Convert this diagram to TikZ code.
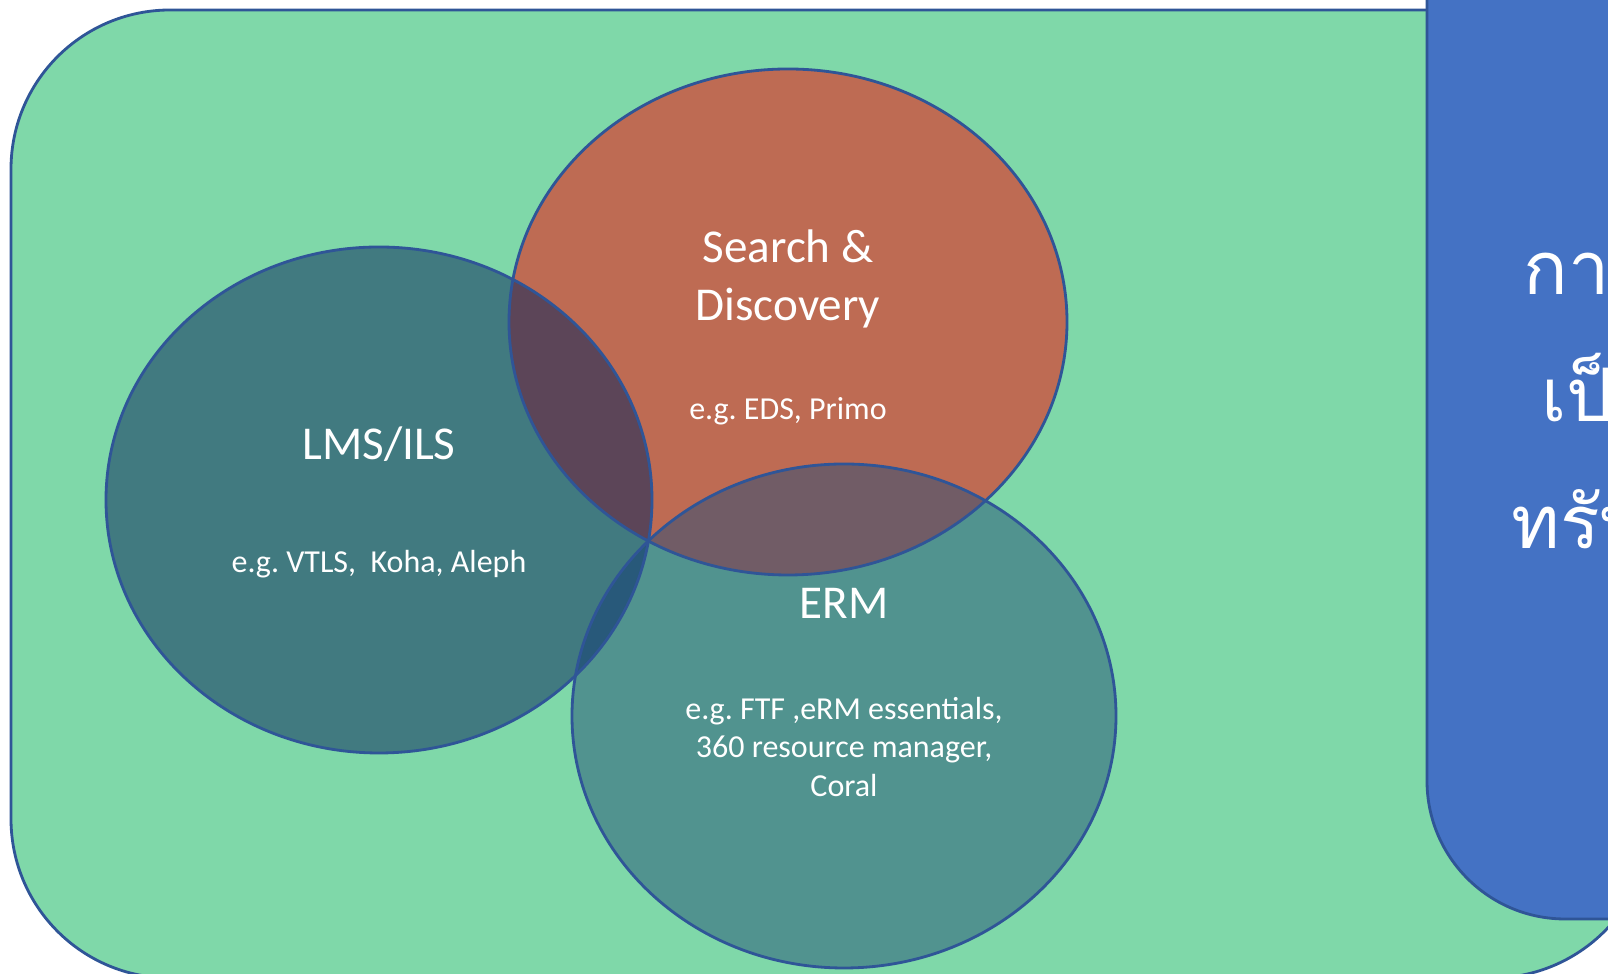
\documentclass[tikz,border=0pt]{standalone}
\usepackage{fontspec}
\usepackage{xcolor}
\usepackage{tikz}
\setmainfont{Carlito}
\newfontfamily\thaifont[Script=Thai]{Loma}
\usetikzlibrary{positioning}
\frenchspacing

\definecolor{bggreen}{HTML}{7FD8A9}
\definecolor{boxblue}{HTML}{4472C4}
\definecolor{rimblue}{HTML}{2F5597}
\definecolor{lmsfill}{HTML}{417A80}
\definecolor{sdfill}{HTML}{BE6B53}
\definecolor{ermfill}{HTML}{51938F}
\definecolor{lmssd}{HTML}{5C4558}
\definecolor{sderm}{HTML}{715C66}
\definecolor{lmserm}{HTML}{28597A}

\begin{document}
\begin{tikzpicture}[x=0.01cm,y=-0.01cm,
    rim/.style={draw=rimblue,line width=0.8pt},
    title/.style={text=white,inner sep=0pt,align=center,font=\fontsize{13.4}{16.4}\selectfont},
    small/.style={text=white,inner sep=0pt,align=center,font=\fontsize{9.1}{10.95}\selectfont},
    thai/.style={text=white,inner sep=0pt,anchor=base west,font=\thaifont\fontsize{21}{26}\selectfont}]
    \useasboundingbox (0,0) rectangle (1608,974);
    \clip (0,0) rectangle (1608,974);

    % Background panels
    \fill[white] (0,0) rectangle (1608,974);
    \draw[rim,fill=bggreen,rounded corners=1.59cm] (11,10) rectangle (1651,978);
    \draw[rim,fill=boxblue,rounded corners=1.38cm] (1427,-200) rectangle (1800,919);

    % Circle centres
    \coordinate (lmsc) at (379,500);
    \coordinate (sdc) at (788,322);
    \coordinate (ermc) at (844,716);

    % Circles
    \fill[lmsfill] (lmsc) ellipse [x radius=273,y radius=253];
    \fill[sdfill] (sdc) ellipse [x radius=279,y radius=253];
    \fill[ermfill] (ermc) ellipse [x radius=272,y radius=252];

    % Overlaps
    \begin{scope}
        \clip (lmsc) ellipse [x radius=273,y radius=253];
        \fill[lmssd] (sdc) ellipse [x radius=279,y radius=253];
        \fill[lmserm] (ermc) ellipse [x radius=272,y radius=252];
    \end{scope}
    \begin{scope}
        \clip (sdc) ellipse [x radius=279,y radius=253];
        \fill[sderm] (ermc) ellipse [x radius=272,y radius=252];
    \end{scope}

    % Outlines
    \draw[rim] (lmsc) ellipse [x radius=273,y radius=253];
    \draw[rim] (sdc) ellipse [x radius=279,y radius=253];
    \draw[rim] (ermc) ellipse [x radius=272,y radius=252];

    % Labels
    \node[title] (sdtitle) at (788,279) {Search \&\\Discovery};
    \node[small] (sdtext) at (788,411) {e.g. EDS, Primo};
    \node[title] (lmstitle) at (379,444) {LMS/ILS};
    \node[small] (lmstext) at (379,564) {e.g. VTLS,\ \ Koha, Aleph};
    \node[title] (ermtitle) at (844,603) {ERM};
    \node[small] (ermtext) at (844,747) {e.g. FTF ,eRM essentials,\\360 resource manager,\\Coral};

    % Side box text
    \node[thai] (line1) at (1523,295) {การจัดการ};
    \node[thai] (line2) at (1541,422) {เป็นระบบ};
    \node[thai] (line3) at (1511,549) {ทรัพยากร};
\end{tikzpicture}
\end{document}
